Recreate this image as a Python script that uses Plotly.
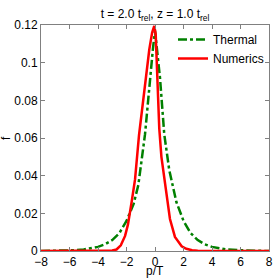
import plotly.graph_objects as go

# Thermal distribution
p_thermal = [-8, -7, -6, -5, -4, -3.5, -3, -2.5, -2, -1.5, -1.17, -0.7, -0.35, -0.15, 0.0,
             0.15, 0.35, 0.65, 1.0, 1.5, 2.0, 2.5, 3.0, 3.5, 4, 5, 6, 7, 8]
f_thermal = [0.00004, 0.0001, 0.0003, 0.0008, 0.0022, 0.0036, 0.0058, 0.0095, 0.016, 0.025,
             0.035, 0.062, 0.092, 0.107, 0.117, 0.106, 0.092, 0.062, 0.043, 0.026, 0.016,
             0.0095, 0.0058, 0.0035, 0.0022, 0.0008, 0.0003, 0.0001, 0.00004]

# Numerical result
p_num = [-8, -5, -4, -3.3, -3, -2.7, -2.4, -2.1, -1.9, -1.64, -1.4, -1.12, -0.84, -0.65, -0.4,
         -0.2, -0.05, 0.05, 0.16, 0.3, 0.45, 0.6, 0.8, 1.05, 1.4, 1.87, 2.2, 2.6, 3, 4, 8]
f_num = [0.0, 0.0, 0.00005, 0.0001, 0.0003, 0.0008, 0.003, 0.008, 0.014, 0.026, 0.038, 0.0616,
         0.080, 0.0926, 0.107, 0.116, 0.1195, 0.115, 0.093, 0.065, 0.05, 0.041, 0.029, 0.017,
         0.0075, 0.0025, 0.0012, 0.0004, 0.0001, 0.0, 0.0]

x_ticks = [-8, -6, -4, -2, 0, 2, 4, 6, 8]
y_ticks = [0, 0.02, 0.04, 0.06, 0.08, 0.1, 0.12]
y_tick_text = ["0", "0.02", "0.04", "0.06", "0.08", "0.1", "0.12"]

W, H = 278, 278
L, R, T, B = 41, 9, 25, 27
plot_h = H - T - B

fig = go.Figure()
fig.add_trace(go.Scatter(x=p_thermal, y=f_thermal, mode="lines", name="Thermal",
                         line=dict(color="#008000", width=2.5, dash="dashdot")))
fig.add_trace(go.Scatter(x=p_num, y=f_num, mode="lines", name="Numerics",
                         line=dict(color="#ff0000", width=2.5)))

font = "Liberation Sans, Arial, sans-serif"
axis_common = dict(showgrid=False, zeroline=False, showline=True, linecolor="#808080",
                   linewidth=1, mirror="ticks", ticks="inside", ticklen=4,
                   tickcolor="#808080", tickfont=dict(family=font, size=12, color="black"),
                   automargin=False)

fig.update_layout(
    width=W, height=H,
    margin=dict(l=L, r=R, t=T, b=B),
    paper_bgcolor="white", plot_bgcolor="white",
    title=dict(text="t = 2.0 t<sub>rel</sub>, z = 1.0 t<sub>rel</sub>",
               x=155 / W, xanchor="center", y=1 - 14 / H, yanchor="middle",
               yref="container", font=dict(family=font, size=12, color="black")),
    xaxis=dict(range=[-8, 8], tickvals=x_ticks, **axis_common),
    yaxis=dict(range=[0, 0.12], tickvals=y_ticks, ticktext=y_tick_text, **axis_common),
    legend=dict(x=1, xanchor="right", y=1, yanchor="top", bgcolor="rgba(0,0,0,0)",
                font=dict(family=font, size=12, color="black"), tracegroupgap=0),
    showlegend=True,
    annotations=[
        dict(text="p/T", xref="paper", yref="paper", x=0.5, y=-19.5 / plot_h,
             xanchor="center", yanchor="middle", showarrow=False,
             font=dict(family=font, size=12, color="black")),
        dict(text="f", xref="paper", yref="paper", x=-35 / (W - L - R), y=0.5,
             xanchor="center", yanchor="middle", showarrow=False, textangle=-90,
             font=dict(family=font, size=12, color="black")),
    ],
)

fig.write_html("out.html", config={"displayModeBar": False},
               post_script="document.body.style.margin='0';")
